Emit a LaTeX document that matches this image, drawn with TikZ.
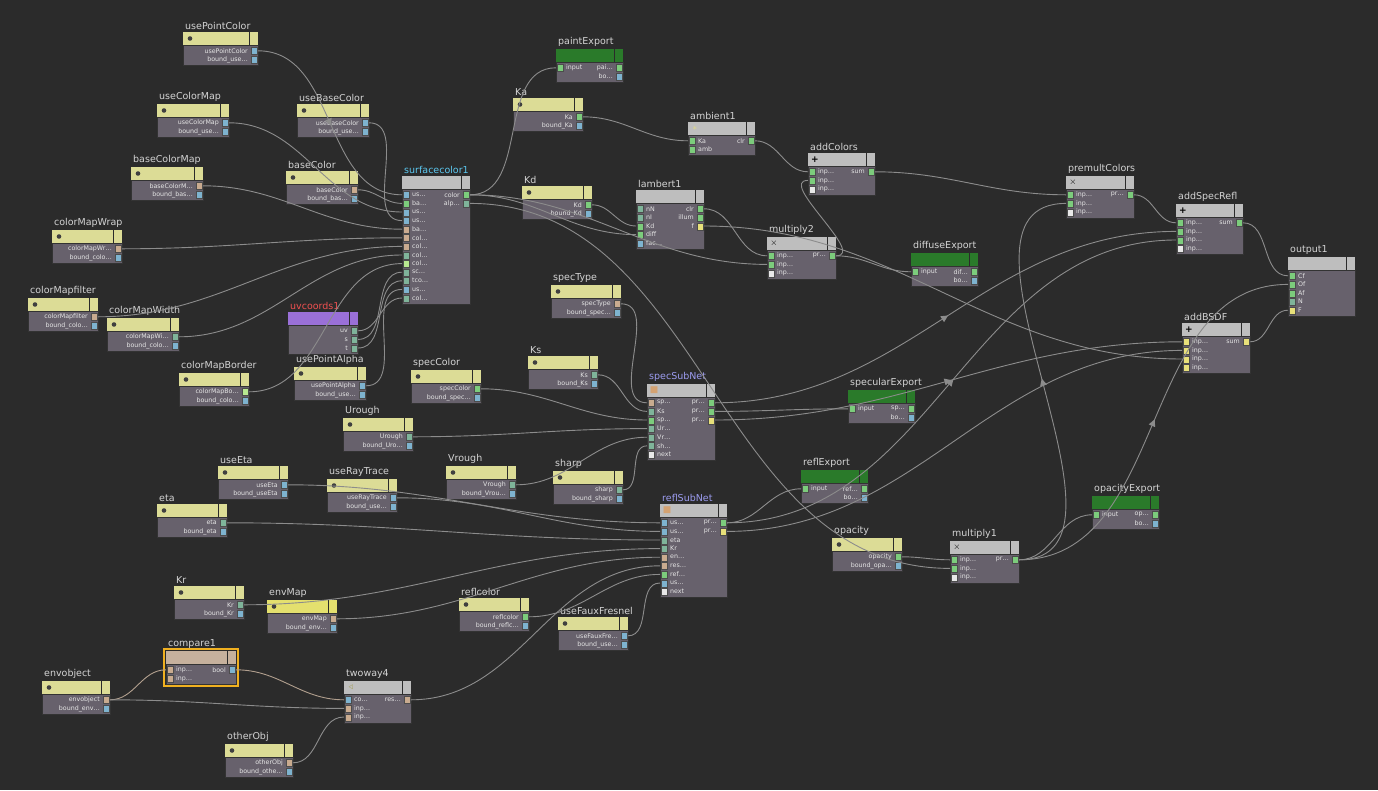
\documentclass[tikz,border=0pt]{standalone}
\usepackage{fontspec}
\setmainfont{DejaVu Sans}
\usetikzlibrary{decorations.markings}
\definecolor{bg}{HTML}{2B2B2B}
\definecolor{vbodyc}{HTML}{67616C}
\definecolor{hgray}{HTML}{BEBEBE}
\definecolor{hyel}{HTML}{DCDC96}
\definecolor{hyel2}{HTML}{E4E06E}
\definecolor{hgrn}{HTML}{2A7A2A}
\definecolor{hpur}{HTML}{9A70D8}
\definecolor{wirec}{HTML}{8C8C8C}
\definecolor{titlec}{HTML}{D4D4D4}
\definecolor{pblue}{HTML}{7EB3CF}
\definecolor{pgreen}{HTML}{7CCC7C}
\definecolor{ptan}{HTML}{C9AB8F}
\definecolor{pteal}{HTML}{7FB49A}
\definecolor{pyel}{HTML}{E8E07A}
\definecolor{pwht}{HTML}{E8E8E8}
\definecolor{plgrn}{HTML}{B8E890}
\definecolor{tblue}{HTML}{5CC8F0}
\definecolor{tred}{HTML}{F05050}
\definecolor{tsub}{HTML}{9C9CF0}
\definecolor{selc}{HTML}{F0B020}
\tikzset{
	vbody/.style={fill=vbodyc, draw=black!80, line width=.6pt},
	vhdr/.style={fill=hgray},
	vphdr/.style={fill=hyel},
	vehdr/.style={fill=hgrn},
	vtitle/.style={anchor=south west, inner sep=0pt, text=titlec, font=\fontsize{9.5}{10}\selectfont},
	vport/.style={inner sep=0pt, text=white!90!black, font=\fontsize{6.3}{6.3}\selectfont},
	wire/.style={draw=wirec, line width=.9pt},
	wirearr/.style={wire, postaction={decorate}, decoration={markings,
		mark=at position .5 with {\fill[wirec] (3pt,0) -- (-4pt,3.5pt) -- (-4pt,-3.5pt) -- cycle;}}}
}
% [header style]{id}{x}{y}{w}{rows}{title}{inputs}{outputs}
\newcommand\vop[9][vhdr]{%
	\draw[vbody] (#3,#4+13) rectangle (#3+#5,#4+16+#6*8.6);
	\fill[#1] (#3,#4) rectangle (#3+#5-9,#4+13);
	\fill[#1] (#3+#5-8,#4) rectangle (#3+#5,#4+13);
	\node[vtitle] (#2) at (#3+2,#4-2) {#7};
	\ifx\relax#8\relax\else
	\foreach \lab/\col [count=\n] in {#8}{
		\fill[\col, draw=black!70] (#3+1,#4+11.2+\n*8.6-4.3) rectangle ++(6,7);
		\coordinate (#2-i\n) at (#3,#4+11.2+\n*8.6-1);
		\node[vport, anchor=west] at (#3+10,#4+11.2+\n*8.6-1) {\lab};
	}\fi
	\ifx\relax#9\relax\else
	\foreach \lab/\col [count=\n] in {#9}{
		\fill[\col, draw=black!70] (#3+#5-7,#4+11.2+\n*8.6-4.3) rectangle ++(6,7);
		\coordinate (#2-o\n) at (#3+#5,#4+11.2+\n*8.6-1);
		\node[vport, anchor=east] at (#3+#5-10,#4+11.2+\n*8.6-1) {\lab};
	}\fi
}
% parameter node: {id}{x}{y}{w}{title}{outputs}
\newcommand\vpar[7][vphdr]{%
	\vop[#1]{#2}{#3}{#4}{#5}{2}{#6}{}{#7}
	\fill[black!75] (#3+7,#4+6.5) circle (2.3);
}
\newcommand\vicon[3]{\node[inner sep=0pt, font=\bfseries\small] at (#1+7,#2+6.5) {#3};}
\newcommand\wire[2]{\draw[wire] (#1) to[out=0,in=180] (#2);}

\begin{document}
\begin{tikzpicture}[x=1pt, y=-1pt]
\fill[bg] (0,0) rectangle (1378,790);
\useasboundingbox (0,0) rectangle (1378,790);

% parameters
\vpar{usePointColor}{183}{32}{75}{usePointColor}{usePointColor/pblue,bound\_use…/pblue}
\vpar{useColorMap}{157}{104}{72}{useColorMap}{useColorMap/pblue,bound\_use…/pblue}
\vpar{useBaseColor}{297}{104}{72}{useBaseColor}{useBaseColor/pblue,bound\_use…/pblue}
\vpar{baseColorMap}{131}{167}{72}{baseColorMap}{baseColorM…/ptan,bound\_bas…/pblue}
\vpar{baseColor}{286}{171}{72}{baseColor}{baseColor/ptan,bound\_bas…/pblue}
\vpar{colorMapWrap}{52}{230}{70}{colorMapWrap}{colorMapWr…/ptan,bound\_colo…/pblue}
\vpar{colorMapfilter}{28}{298}{70}{colorMapfilter}{colorMapfilter/ptan,bound\_colo…/pblue}
\vpar{colorMapWidth}{107}{318}{72}{colorMapWidth}{colorMapWi…/pteal,bound\_colo…/pblue}
\vpar{colorMapBorder}{179}{373}{70}{colorMapBorder}{colorMapBo…/plgrn,bound\_colo…/pblue}
\vpar{usePointAlpha}{294}{367}{72}{usePointAlpha}{usePointAlpha/pblue,bound\_use…/pblue}
\vpar{Ka}{513}{98}{70}{Ka}{Ka/pgreen,bound\_Ka/pblue}
\vpar{Kd}{522}{186}{70}{Kd}{Kd/pgreen,bound\_Kd/pblue}
\vpar{specType}{551}{285}{70}{specType}{specType/ptan,bound\_spec…/pblue}
\vpar{Ks}{528}{356}{70}{Ks}{Ks/pteal,bound\_Ks/pblue}
\vpar{specColor}{411}{370}{70}{specColor}{specColor/pgreen,bound\_spec…/pblue}
\vpar{Urough}{343}{418}{70}{Urough}{Urough/pteal,bound\_Uro…/pblue}
\vpar{Vrough}{446}{466}{70}{Vrough}{Vrough/pteal,bound\_Vrou…/pblue}
\vpar{sharp}{553}{471}{70}{sharp}{sharp/pteal,bound\_sharp/pblue}
\vpar{useEta}{218}{466}{70}{useEta}{useEta/pblue,bound\_useEta/pblue}
\vpar{useRayTrace}{327}{479}{70}{useRayTrace}{useRayTrace/pblue,bound\_use…/pblue}
\vpar{eta}{157}{504}{70}{eta}{eta/pteal,bound\_eta/pblue}
\vpar{opacity}{832}{538}{70}{opacity}{opacity/pgreen,bound\_opa…/pblue}
\vpar{Kr}{174}{586}{70}{Kr}{Kr/pteal,bound\_Kr/pblue}
\vpar[fill=hyel2]{envMap}{267}{600}{70}{envMap}{envMap/ptan,bound\_env…/pblue}
\vpar{reflcolor}{459}{598}{70}{reflcolor}{reflcolor/pgreen,bound\_reflc…/pblue}
\vpar{useFauxFresnel}{558}{617}{70}{useFauxFresnel}{useFauxFre…/pblue,bound\_use…/pblue}
\vpar{envobject}{42}{681}{68}{envobject}{envobject/ptan,bound\_env…/pblue}
\vpar{otherObj}{225}{744}{68}{otherObj}{otherObj/ptan,bound\_othe…/pblue}

% operators
\vop[fill=hpur]{uvcoords1}{288}{312}{70}{3}{\textcolor{tred}{uvcoords1}}{}{uv/pteal,s/pteal,t/pteal}
\vop{surfacecolor1}{402}{176}{68}{13}{\textcolor{tblue}{surfacecolor1}}%
	{us…/pblue,ba…/pgreen,us…/pblue,us…/pblue,ba…/ptan,col…/ptan,col…/ptan,col…/pteal,col…/plgrn,sc…/pteal,tco…/pteal,us…/pblue,col…/pteal}{color/pgreen,alp…/pteal}
\vop{ambient1}{688}{122}{67}{2}{ambient1}{Ka/pgreen,amb/pgreen}{clr/pgreen}
\vicon{688}{122}{\textcolor{pyel}{$\ast$}}
\vop{addColors}{808}{153}{67}{3}{addColors}{inp…/pgreen,inp…/pgreen,inp…/pwht}{sum/pgreen}
\vicon{808}{153}{+}
\vop{lambert1}{636}{190}{68}{5}{lambert1}{nN/pteal,nI/pteal,Kd/pgreen,diff/pgreen,fac…/pblue}{clr/pgreen,illum/pgreen,f/pyel}
\vop{multiply2}{767}{237}{69}{3}{multiply2}{inp…/pgreen,inp…/pgreen,inp…/pwht}{pr…/pgreen}
\vicon{767}{237}{$\times$}
\vop{premultColors}{1066}{176}{68}{3}{premultColors}{inp…/pgreen,inp…/pgreen,inp…/pwht}{pr…/pgreen}
\vicon{1066}{176}{$\times$}
\vop{addSpecRefl}{1176}{204}{67}{4}{addSpecRefl}{inp…/pgreen,inp…/pgreen,inp…/pgreen,inp…/pwht}{sum/pgreen}
\vicon{1176}{204}{+}
\vop{output1}{1288}{257}{67}{5}{output1}{Cf/pgreen,Of/pgreen,Af/pgreen,N/pteal,F/pyel}{}
\vop{addBSDF}{1182}{323}{68}{4}{addBSDF}{inp…/pyel,inp…/pyel,inp…/pyel,inp…/pyel}{sum/pyel}
\vicon{1182}{323}{+}
\vop{specSubNet}{647}{384}{68}{7}{\textcolor{tsub}{specSubNet}}%
	{sp…/ptan,Ks/pteal,sp…/pgreen,Ur…/pteal,Vr…/pteal,sh…/pteal,next/pwht}{pr…/pgreen,pr…/pgreen,pr…/pyel}
\vicon{647}{384}{\textcolor{ptan!80!orange}{■}}
\vop{reflSubNet}{660}{504}{67}{9}{\textcolor{tsub}{reflSubNet}}%
	{us…/pblue,us…/pblue,eta/pteal,Kr/pteal,en…/ptan,res…/ptan,ref…/pgreen,us…/pblue,next/pwht}{pr…/pgreen,pr…/pyel}
\vicon{660}{504}{\textcolor{ptan!80!orange}{■}}
\vop{multiply1}{950}{541}{69}{3}{multiply1}{inp…/pgreen,inp…/pgreen,inp…/pwht}{pr…/pgreen}
\vicon{950}{541}{$\times$}
\vop[fill=ptan!70!hgray]{compare1}{166}{651}{70}{2}{compare1}{inp…/ptan,inp…/ptan}{bool/pblue}
\draw[selc, line width=1.4pt] (164,649) rectangle (238,686);
\vop{twoway4}{344}{681}{67}{3}{twoway4}{co…/pblue,inp…/ptan,inp…/ptan}{res…/ptan}
\vicon{344}{681}{\textcolor{pyel!70!black}{$\triangleleft$}}

% exports
\vop[vehdr]{paintExport}{556}{49}{67}{2}{paintExport}{input/pgreen}{pai…/pgreen,bo…/pblue}
\vop[vehdr]{diffuseExport}{911}{253}{67}{2}{diffuseExport}{input/pgreen}{dif…/pgreen,bo…/pblue}
\vop[vehdr]{specularExport}{848}{390}{67}{2}{specularExport}{input/pgreen}{sp…/pgreen,bo…/pblue}
\vop[vehdr]{reflExport}{801}{470}{67}{2}{reflExport}{input/pgreen}{ref…/pgreen,bo…/pblue}
\vop[vehdr]{opacityExport}{1092}{496}{67}{2}{opacityExport}{input/pgreen}{op…/pgreen,bo…/pblue}

% wires
\draw[wirearr] (usePointColor-o1) to[out=0,in=180] (surfacecolor1-i1);
\wire{baseColor-o1}{surfacecolor1-i2}
\wire{useColorMap-o1}{surfacecolor1-i3}
\wire{useBaseColor-o1}{surfacecolor1-i4}
\wire{baseColorMap-o1}{surfacecolor1-i5}
\wire{colorMapWrap-o1}{surfacecolor1-i6}
\wire{colorMapfilter-o1}{surfacecolor1-i7}
\wire{colorMapWidth-o1}{surfacecolor1-i8}
\wire{colorMapBorder-o1}{surfacecolor1-i9}
\wire{uvcoords1-o2}{surfacecolor1-i10}
\wire{uvcoords1-o3}{surfacecolor1-i11}
\wire{usePointAlpha-o1}{surfacecolor1-i12}
\wire{uvcoords1-o1}{surfacecolor1-i13}
\wire{surfacecolor1-o1}{paintExport-i1}
\wire{surfacecolor1-o1}{multiply2-i2}
\wire{surfacecolor1-o1}{lambert1-i4}
\wire{surfacecolor1-o2}{multiply1-i2}
\wire{Ka-o1}{ambient1-i1}
\wire{ambient1-o1}{addColors-i1}
\wire{Kd-o1}{lambert1-i3}
\wire{lambert1-o1}{multiply2-i1}
\wire{multiply2-o1}{addColors-i2}
\wire{multiply2-o1}{diffuseExport-i1}
\wire{lambert1-o3}{addBSDF-i3}
\wire{addColors-o1}{premultColors-i1}
\wire{premultColors-o1}{addSpecRefl-i1}
\wire{addSpecRefl-o1}{output1-i1}
\wire{addBSDF-o1}{output1-i5}
\wire{specType-o1}{specSubNet-i1}
\wire{Ks-o1}{specSubNet-i2}
\wire{specColor-o1}{specSubNet-i3}
\wire{Urough-o1}{specSubNet-i4}
\wire{Vrough-o1}{specSubNet-i5}
\wire{sharp-o1}{specSubNet-i6}
\draw[wirearr] (specSubNet-o1) to[out=0,in=180] (addSpecRefl-i2);
\wire{specSubNet-o2}{specularExport-i1}
\draw[wirearr] (specSubNet-o3) to[out=0,in=180] (addBSDF-i1);
\wire{useEta-o1}{reflSubNet-i1}
\wire{useRayTrace-o1}{reflSubNet-i2}
\wire{eta-o1}{reflSubNet-i3}
\wire{Kr-o1}{reflSubNet-i4}
\wire{envMap-o1}{reflSubNet-i5}
\wire{twoway4-o1}{reflSubNet-i6}
\wire{reflcolor-o1}{reflSubNet-i7}
\wire{useFauxFresnel-o1}{reflSubNet-i8}
\draw[wirearr] (reflSubNet-o1) to[out=0,in=180] (addSpecRefl-i3);
\wire{reflSubNet-o1}{reflExport-i1}
\wire{reflSubNet-o2}{addBSDF-i2}
\wire{opacity-o1}{multiply1-i1}
\wire{multiply1-o1}{opacityExport-i1}
\draw[wirearr] (multiply1-o1) to[out=0,in=180] (premultColors-i2);
\draw[wirearr] (multiply1-o1) to[out=0,in=180] (output1-i2);
\draw[wire, draw=ptan!60!wirec] (envobject-o1) to[out=0,in=180] (compare1-i1);
\draw[wire, draw=ptan!60!wirec] (compare1-o1) to[out=0,in=180] (twoway4-i1);
\wire{envobject-o1}{twoway4-i2}
\wire{otherObj-o1}{twoway4-i3}
\end{tikzpicture}
\end{document}
